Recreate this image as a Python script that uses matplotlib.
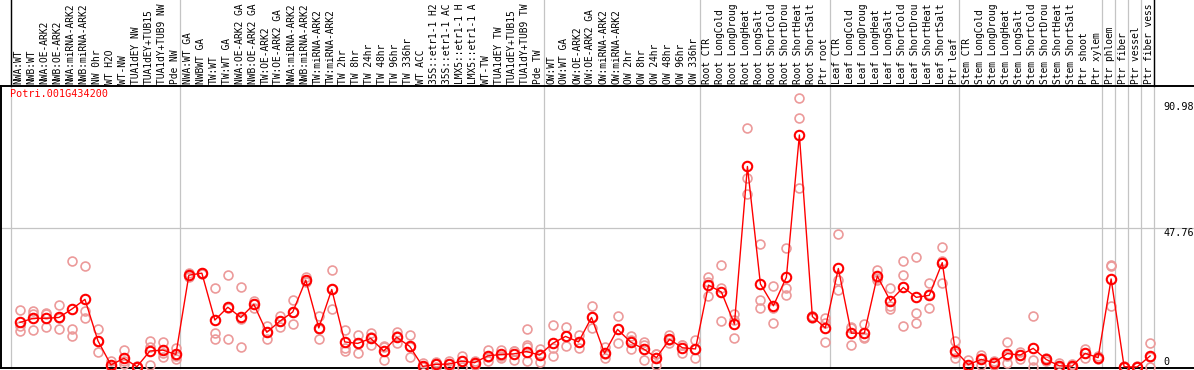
import matplotlib
matplotlib.use("Agg")
import matplotlib.pyplot as plt

gene = "Potri.001G434200"

samples = [
    "NWA:WT", "NWB:WT", "NWA:OE-ARK2", "NWB:OE-ARK2", "NWA:miRNA-ARK2", "NWB:miRNA-ARK2",
    "NW 0hr", "WT H2O", "WT-NW", "TUA1dEY NW", "TUA1dEY+TUB15", "TUA1dY+TUB9 NW", "Pde NW",
    "NWA:WT GA", "NWBWT GA", "TW:WT", "TW:WT GA", "NWA:OE-ARK2 GA", "NWB:OE-ARK2 GA",
    "TW:OE-ARK2", "TW:OE-ARK2 GA", "NWA:miRNA-ARK2", "NWB:miRNA-ARK2", "TW:miRNA-ARK2",
    "TW:miRNA-ARK2", "TW 2hr", "TW 8hr", "TW 24hr", "TW 48hr", "TW 96hr", "TW 336hr",
    "WT ACC", "35S::etr1-1 H2", "35S::etr1-1 AC", "LMX5::etr1-1 H", "LMX5::etr1-1 A",
    "WT-TW", "TUA1dEY TW", "TUA1dEY+TUB15", "TUA1dY+TUB9 TW", "Pde TW",
    "OW:WT", "OW:WT GA", "OW:OE-ARK2", "OW:OE-ARK2 GA", "OW:miRNA-ARK2", "OW:miRNA-ARK2",
    "OW 2hr", "OW 8hr", "OW 24hr", "OW 48hr", "OW 96hr", "OW 336hr",
    "Root CTR", "Root LongCold", "Root LongDroug", "Root LongHeat", "Root LongSalt",
    "Root ShortCold", "Root ShortDrou", "Root ShortHeat", "Root ShortSalt", "Ptr root",
    "Leaf CTR", "Leaf LongCold", "Leaf LongDroug", "Leaf LongHeat", "Leaf LongSalt",
    "Leaf ShortCold", "Leaf ShortDrou", "Leaf ShortHeat", "Leaf ShortSalt", "Ptr leaf",
    "Stem CTR", "Stem LongCold", "Stem LongDroug", "Stem LongHeat", "Stem LongSalt",
    "Stem ShortCold", "Stem ShortDrou", "Stem ShortHeat", "Stem ShortSalt", "Ptr shoot",
    "Ptr xylem", "Ptr phloem", "Ptr fiber", "Ptr vessel", "Ptr fiber vess",
]

# mean expression per sample
mean_vals = [
    15.3, 16.7, 16.7, 17.0, 19.9, 23.2, 9.0, 0.7, 3.0, 0.1, 5.5, 5.8, 4.3,
    31.5, 32.2, 16.1, 20.5, 17.0, 21.5, 11.9, 15.7, 18.9, 29.8, 13.4, 26.6, 8.6, 8.1,
    9.8, 5.5, 10.2, 7.1, 0.2, 0.9, 1.0, 2.0, 1.5, 3.8, 4.3, 4.5, 5.3, 4.1,
    8.1, 10.5, 8.6, 17.0, 4.7, 12.9, 8.6, 6.2, 3.2, 9.5, 6.6, 6.2,
    28.1, 25.7, 14.7, 68.8, 28.5, 21.0, 30.8, 79.6, 17.3, 13.4,
    33.8, 11.6, 11.6, 31.2, 22.7, 27.3, 23.9, 24.6, 35.8, 5.6,
    0.8, 2.6, 1.5, 4.6, 4.1, 6.4, 2.6, 0.4, 0.3, 4.7, 3.2,
    30.2, 0.1, 0.0, 3.8,
]

# individual replicates per sample
replicates = [
    [19.5, 12.2, 14.2], [19.3, 18.2, 12.7], [18.6, 18.2, 13.6], [21.3, 12.9, 16.8],
    [36.3, 12.9, 10.5], [34.5, 19.2, 16.7], [13.0, 9.0, 5.0], [2.2, 0.0, 0.0],
    [5.8, 1.0, 2.2], [0.3, 0.0, 0.0], [9.0, 7.0, 0.6], [8.5, 4.7, 3.5], [6.4, 3.8, 2.8],
    [32.4, 31.0, 31.1], [32.4, 31.8, 32.4], [27.0, 11.7, 9.6], [31.5, 9.6, 20.4],
    [27.5, 6.9, 16.6], [22.7, 20.1, 21.7], [14.1, 9.6, 12.0], [17.5, 13.8, 15.8],
    [23.0, 14.7, 19.0], [30.8, 29.6, 29.0], [17.5, 9.5, 13.2], [33.3, 19.8, 26.7],
    [12.7, 6.4, 5.6], [11.0, 4.9, 8.4], [11.6, 7.5, 10.3], [7.2, 2.3, 7.0],
    [12.0, 8.1, 10.5], [11.0, 3.3, 7.0], [1.3, 0.0, 0.0], [1.8, 0.0, 0.9],
    [2.1, 0.0, 0.9], [3.8, 0.0, 2.2], [2.1, 0.7, 1.5], [5.8, 2.1, 3.5],
    [5.8, 3.2, 3.9], [5.5, 2.4, 5.6], [12.9, 7.5, 6.8, 2.2], [6.2, 1.8, 4.3],
    [14.3, 3.8, 6.4], [13.6, 7.3, 10.6], [10.9, 6.4, 8.5], [20.8, 13.3, 17.0],
    [6.8, 3.0, 4.3], [17.4, 8.1, 13.2], [10.6, 6.1, 9.1], [8.6, 2.4, 7.6],
    [4.5, 0.7, 4.4], [11.0, 8.3, 9.2], [7.5, 4.9, 7.4], [9.3, 3.0, 6.3],
    [30.8, 24.4, 29.1], [35.0, 27.0, 15.8], [18.2, 9.8, 16.1], [81.9, 64.7, 59.3],
    [42.2, 23.0, 20.1], [27.8, 15.0, 20.2], [40.7, 27.0, 24.7], [92.2, 85.3, 61.3],
    [17.5, 16.8, 17.6], [16.9, 15.0, 8.5],
    [45.6, 29.8, 26.4], [13.8, 7.4, 13.5], [14.6, 10.2, 9.8], [33.3, 29.8, 30.5],
    [27.0, 20.9, 19.8], [36.4, 31.6, 14.1], [37.6, 18.6, 15.0], [28.7, 20.1, 25.2],
    [41.0, 36.4, 28.9], [8.9, 3.2, 4.7],
    [2.4, 0.0, 0.0], [4.1, 0.7, 3.0], [2.1, 0.7, 1.7], [8.5, 1.5, 3.8],
    [5.3, 2.8, 4.2], [17.6, 2.4, 0.0], [3.0, 2.1, 2.7], [1.3, 0.0, 0.0],
    [1.0, 0.0, 0.0], [6.1, 3.2, 4.8], [3.8, 2.8, 3.0],
    [35.0, 20.9, 34.7], [0.4, 0.0, 0.0], [0.2, 0.0, 0.0], [8.1, 0.0, 3.3],
]

group_starts = [0, 13, 41, 53, 63, 73, 84, 85, 86, 87, 88]
ytick_vals = [90.98, 47.76, 0]

mono = "DejaVu Sans Mono"
fs = 7.3
fs_lab = 6.9

fig = plt.figure(figsize=(11.94, 3.70), dpi=100)
ax = fig.add_axes([1 / 1194, 2 / 370, 1193 / 1194, 282 / 370])
ax.set_xlim(-1.463, 90.38)
ax.set_ylim(-0.34, 96.4)

grid_c = "#c4c4c4"
header_top = 368 / 282
for g in group_starts:
    ax.axvline(g - 0.68, ymin=0, ymax=header_top, color=grid_c, lw=0.9,
               clip_on=False, zorder=1)
for g in (group_starts[0], group_starts[-1]):
    ax.axvline(g - 0.68, ymin=1, ymax=header_top, color="black", lw=1.0,
               clip_on=False, zorder=2)
ax.axhline(47.76, color=grid_c, lw=0.9, zorder=1)

x = list(range(len(samples)))
rep_x = []
rep_y = []
for i, reps in enumerate(replicates):
    for r in reps:
        rep_x.append(i)
        rep_y.append(r)
ax.plot(rep_x, rep_y, "o", ls="none", ms=6.4, mfc="none", mec="#ec9a9a",
        mew=1.2, zorder=3, clip_on=False)
ax.plot(x, mean_vals, "-", color="red", lw=1.0, zorder=4)
ax.plot(x, mean_vals, "o", ls="none", ms=6.8, mfc="none", mec="red",
        mew=1.5, zorder=5, clip_on=False)

for i, s in enumerate(samples):
    ax.annotate(s, xy=(i - 0.1, 1), xycoords=("data", "axes fraction"),
                xytext=(0, 1.5), textcoords="offset points", rotation=90,
                ha="center", va="bottom", fontsize=fs_lab, family=mono,
                annotation_clip=False)

for v in ytick_vals:
    ax.text(88.0, v, f"{v:g}", ha="left", va="bottom" if v == 0 else "top",
            fontsize=fs, family=mono, color="black")

ax.text(-0.75, 95.5, gene, ha="left", va="top", fontsize=fs, family=mono,
        color="red")

ax.spines["right"].set_visible(False)
for side in ("left", "bottom", "top"):
    ax.spines[side].set_color("black")
    ax.spines[side].set_linewidth(1.4)
ax.set_xticks([])
ax.set_yticks([])

fig.savefig("out.png", dpi=100)
